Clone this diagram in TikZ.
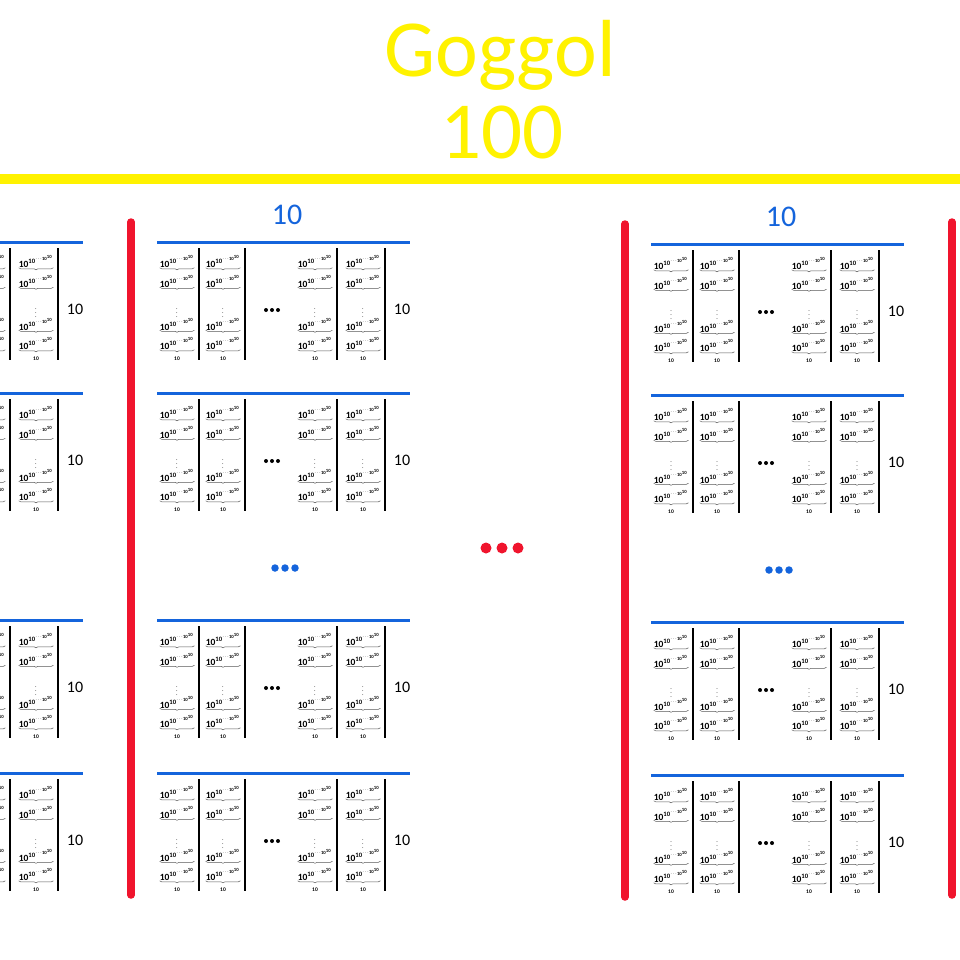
\documentclass[tikz,border=0pt]{standalone}
\usepackage{fontspec}
\setmainfont{Carlito}
\usetikzlibrary{decorations.pathreplacing}
\definecolor{gbl}{RGB}{20,100,220}
\definecolor{grd}{RGB}{240,20,45}
\definecolor{gyl}{RGB}{255,242,0}
\tikzset{
  bluerule/.style={draw=gbl, line width=3pt},
  blackbar/.style={draw=black, line width=2.6pt},
  redbar/.style={draw=grd, line width=7.5pt, line cap=round},
  entrytxt/.style={inner sep=0pt, font=\fontsize{9.5}{9.5}\selectfont},
  ubrace/.style={draw=black!65, line width=0.5pt, decorate, decoration={brace, mirror, amplitude=2pt}},
  smallten/.style={inner sep=0pt, font=\fontsize{5.5}{5.5}\selectfont},
  vdtxt/.style={inner sep=0pt, font=\fontsize{6}{6}\selectfont},
  sidelbl/.style={inner sep=0pt, font=\fontsize{16}{16}\selectfont},
  toplbl/.style={inner sep=0pt, text=gbl, font=\fontsize{30}{30}\selectfont},
  titletxt/.style={inner sep=0pt, text=gyl, font=\fontsize{81}{81}\selectfont, anchor=base},
  bdot/.style={fill=black, shape=circle, inner sep=0pt, minimum size=4pt},
  bluedot/.style={fill=gbl, shape=circle, inner sep=0pt, minimum size=7.5pt},
  reddot/.style={fill=grd, shape=circle, inner sep=0pt, minimum size=11pt},
}
\newcommand\gogTower{$\mathbf{10}^{\mathbf{10}^{{\cdots}\mathbf{10}^{\mathbf{10}}}}$}
\begin{document}
\begin{tikzpicture}[x=1pt,y=-1pt]
\useasboundingbox (0,0) rectangle (960,959);
\clip (0,0) rectangle (960,959);
\fill[white] (0,0) rectangle (960,959);
\node[titletxt] (g) at (500,76) {Goggol};
\node[titletxt] (h) at (502,158) {100};
\coordinate (yl0) at (0,179);
\coordinate (yl1) at (960,179);
\draw[draw=gyl, line width=10pt] (yl0) -- (yl1);
\foreach \pn/\px/\py in {P/-170/0,Q/157/0,R/651/2}{
  \node[toplbl] (\pn-top) at (\px+130,215+\py) {10};
  \node[bluedot] (\pn-e1) at (\px+118,568+\py) {};
  \node[bluedot] (\pn-e2) at (\px+128,568+\py) {};
  \node[bluedot] (\pn-e3) at (\px+138,568+\py) {};
  \foreach \bn/\by in {A/242,B/393,C/620,D/773}{
    \begin{scope}[shift={(\px,\by+\py)}]
      \coordinate (\pn\bn-l) at (0,0);
      \coordinate (\pn\bn-r) at (253,0);
      \draw[bluerule] (\pn\bn-l) -- (\pn\bn-r);
      \foreach \cx/\bx [count=\ci] in {20/42,66/88,158/180,206/228}{
        \foreach \ry/\rk in {25.5/a,45/b,88/c,107.5/d}{
          \node[entrytxt,anchor=base] (\pn\bn\ci\rk) at (\cx,\ry) {\gogTower};
          \draw[ubrace] (\pn\bn\ci\rk.south west) -- (\pn\bn\ci\rk.south east);
        }
        \node[vdtxt] (\pn\bn\ci v) at (\cx,68) {$\vdots$};
        \node[smallten] (\pn\bn\ci e) at (\cx,116.5) {$\mathbf{10}$};
        \coordinate (\pn\bn\ci t) at (\bx,6);
        \coordinate (\pn\bn\ci u) at (\bx,118);
        \draw[blackbar] (\pn\bn\ci t) -- (\pn\bn\ci u);
      }
      \node[bdot] (\pn\bn d1) at (109,68) {};
      \node[bdot] (\pn\bn d2) at (115,68) {};
      \node[bdot] (\pn\bn d3) at (121,68) {};
      \node[sidelbl] (\pn\bn n) at (245,67) {10};
    \end{scope}
  }
}
\coordinate (r1t) at (131,222); \coordinate (r1b) at (131,895);
\coordinate (r2t) at (625,224); \coordinate (r2b) at (625,897);
\coordinate (r3t) at (952,222); \coordinate (r3b) at (952,895);
\draw[redbar] (r1t) -- (r1b);
\draw[redbar] (r2t) -- (r2b);
\draw[redbar] (r3t) -- (r3b);
\node[reddot] (m1) at (486,548) {};
\node[reddot] (m2) at (502,548) {};
\node[reddot] (m3) at (518,548) {};
\end{tikzpicture}
\end{document}
